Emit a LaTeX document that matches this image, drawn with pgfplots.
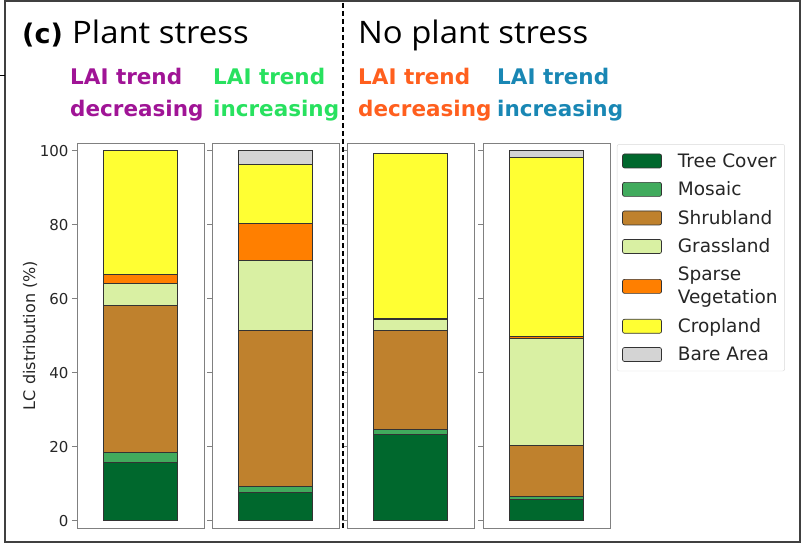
\documentclass[border=0pt]{standalone}
\usepackage{fontspec}
\setmainfont{DejaVu Sans}
\newfontfamily\titlefont{Open Sans}[FakeStretch=1.06]
\newfontfamily\laifont{DejaVu Sans}
\usepackage{pgfplots}
\pgfplotsset{compat=1.18}

\definecolor{treec}{RGB}{0,104,45}
\definecolor{mosaicc}{RGB}{65,171,93}
\definecolor{shrubc}{RGB}{191,129,45}
\definecolor{grassc}{RGB}{217,240,163}
\definecolor{sparsec}{RGB}{255,127,0}
\definecolor{cropc}{RGB}{255,255,51}
\definecolor{barec}{RGB}{212,212,212}
\definecolor{laipurple}{RGB}{160,20,150}
\definecolor{laigreen}{RGB}{40,225,95}
\definecolor{laiorange}{RGB}{255,95,30}
\definecolor{laiblue}{RGB}{25,135,180}

\pgfplotsset{
  panel/.style={
    scale only axis, width=127pt, height=385pt, anchor=south west,
    xmin=-0.5, xmax=0.5, ymin=-1.97, ymax=102.08,
    ybar stacked, bar width=0.583,
    xtick=\empty, ytick={0,20,40,60,80,100},
    ytick pos=left, tick align=outside, major tick length=5pt,
    axis line style={draw=black!50, line width=0.9pt},
    every tick/.style={black!50, line width=0.8pt},
    yticklabel style={font=\fontsize{15}{16}\selectfont, text=black!85},
    /pgf/number format/assume math mode=true,
    clip=false,
  },
  lc/.style={fill=#1, draw=black!80, line width=0.7pt,
    legend image code/.code={\draw[##1] (0pt,-7pt) rectangle (39pt,7pt);}},
}

\begin{document}
\begin{tikzpicture}[x=1pt,y=1pt]
\useasboundingbox (0,0) rectangle (812,-548);
\draw[line width=1.6pt, black!75] (5,-1) rectangle (800,-542);
\draw[line width=1.2pt] (0,-75.5) -- (5,-75.5);

% Panel 1: plant stress, LAI decreasing
\begin{axis}[panel, at={(77pt,-528pt)},
  ylabel={LC distribution (\%)},
  ylabel style={at={(axis description cs:-0.370,0.5)}, anchor=center, font=\fontsize{16}{18}\selectfont, text=black!85}]
\addplot[lc=treec]   coordinates {(0,15.9)};
\addplot[lc=mosaicc] coordinates {(0,2.5)};
\addplot[lc=shrubc]  coordinates {(0,39.7)};
\addplot[lc=grassc]  coordinates {(0,6.0)};
\addplot[lc=sparsec] coordinates {(0,2.4)};
\addplot[lc=cropc]   coordinates {(0,33.5)};
\addplot[lc=barec]   coordinates {(0,0)};
\end{axis}

% Panel 2: plant stress, LAI increasing
\begin{axis}[panel, at={(212pt,-528pt)}, yticklabels={}]
\addplot[lc=treec]   coordinates {(0,7.8)};
\addplot[lc=mosaicc] coordinates {(0,1.6)};
\addplot[lc=shrubc]  coordinates {(0,42.0)};
\addplot[lc=grassc]  coordinates {(0,19.1)};
\addplot[lc=sparsec] coordinates {(0,9.9)};
\addplot[lc=cropc]   coordinates {(0,15.9)};
\addplot[lc=barec]   coordinates {(0,3.7)};
\end{axis}

% Panel 3: no plant stress, LAI decreasing
\begin{axis}[panel, at={(347pt,-528pt)}, yticklabels={}]
\addplot[lc=treec]   coordinates {(0,23.3)};
\addplot[lc=mosaicc] coordinates {(0,1.4)};
\addplot[lc=shrubc]  coordinates {(0,26.8)};
\addplot[lc=grassc]  coordinates {(0,2.9)};
\addplot[lc=sparsec] coordinates {(0,0.2)};
\addplot[lc=cropc]   coordinates {(0,44.7)};
\addplot[lc=barec]   coordinates {(0,0)};
\end{axis}

% Panel 4: no plant stress, LAI increasing
\begin{axis}[panel, at={(483pt,-528pt)}, yticklabels={},
  legend cell align=left,
  legend style={at={(axis description cs:1.055,0.997)}, anchor=north west,
    draw=black!15, rounded corners=2pt, fill=white,
    font=\fontsize{18.5}{23}\selectfont, text=black!85,
    nodes={align=left, inner sep=2pt}, row sep=9pt, column sep=14pt,
    inner xsep=5pt, inner ysep=7pt}]
\addplot[lc=treec]   coordinates {(0,5.8)};  \addlegendentry{Tree Cover}
\addplot[lc=mosaicc] coordinates {(0,0.8)};  \addlegendentry{Mosaic}
\addplot[lc=shrubc]  coordinates {(0,13.9)}; \addlegendentry{Shrubland}
\addplot[lc=grassc]  coordinates {(0,28.9)}; \addlegendentry{Grassland}
\addplot[lc=sparsec] coordinates {(0,0.3)};  \addlegendentry{Sparse\\Vegetation}
\addplot[lc=cropc]   coordinates {(0,48.5)}; \addlegendentry{Cropland}
\addplot[lc=barec]   coordinates {(0,1.8)};  \addlegendentry{Bare Area}
\end{axis}

\draw[line width=1.5pt, dash pattern=on 5pt off 3pt] (343,-3) -- (343,-528);

% titles
\node[anchor=base west, inner sep=0, font=\laifont\bfseries\fontsize{27}{30}\selectfont] at (22,-44) {(c)};
\node[anchor=base west, inner sep=0, font=\titlefont\fontsize{31}{33}\selectfont] at (72,-44) {Plant stress};
\node[anchor=base west, inner sep=0, font=\titlefont\fontsize{31}{33}\selectfont] at (358,-44) {No plant stress};

\begin{scope}[every node/.style={anchor=base west, inner sep=0, font=\laifont\bfseries\fontsize{21.5}{24}\selectfont}]
\node[text=laipurple] at (70,-85) {LAI trend};
\node[text=laipurple] at (70,-117) {decreasing};
\node[text=laigreen] at (213,-85) {LAI trend};
\node[text=laigreen] at (213,-117) {increasing};
\node[text=laiorange] at (358,-85) {LAI trend};
\node[text=laiorange] at (358,-117) {decreasing};
\node[text=laiblue] at (497,-85) {LAI trend};
\node[text=laiblue] at (497,-117) {increasing};
\end{scope}
\end{tikzpicture}
\end{document}
